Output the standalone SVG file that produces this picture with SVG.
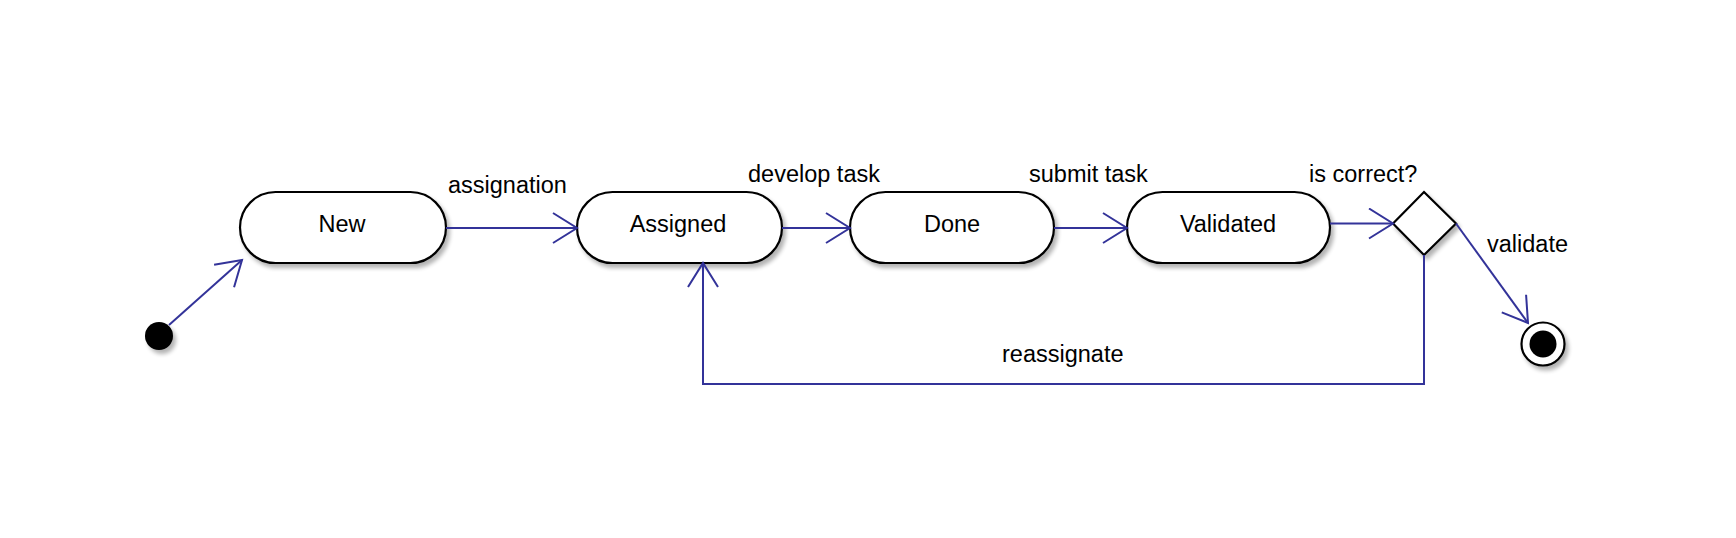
<svg xmlns="http://www.w3.org/2000/svg" width="1736" height="538" viewBox="0 0 1736 538">
<style>
.node{fill:#fff;stroke:#000;stroke-width:2.2}
.lbl{font-family:"Liberation Sans",Arial,sans-serif;font-size:23.5px;fill:#000}
.mid{text-anchor:middle}
.conn{fill:none;stroke:#333399;stroke-width:2}
</style>
<defs>
<filter id="sh" x="-20%" y="-20%" width="150%" height="150%">
<feGaussianBlur in="SourceAlpha" stdDeviation="2"/>
<feOffset dx="3" dy="4" result="b"/>
<feComponentTransfer><feFuncA type="linear" slope="0.3"/></feComponentTransfer>
<feMerge><feMergeNode/><feMergeNode in="SourceGraphic"/></feMerge>
</filter>
<marker id="arr" markerWidth="30" markerHeight="34" refX="25" refY="16" orient="auto" markerUnits="userSpaceOnUse">
<path d="M1,1 L25,16 L1,31" fill="none" stroke="#333399" stroke-width="2"/>
</marker>
</defs>
<rect width="1736" height="538" fill="#fff"/>
<g id="start"><circle cx="159" cy="336" r="14" fill="#000" filter="url(#sh)"/></g>
<g id="new"><rect class="node" x="240" y="192" width="206" height="71" rx="35.5" filter="url(#sh)"/><text class="lbl mid" x="342" y="232">New</text></g>
<g id="assigned"><rect class="node" x="577" y="192" width="205" height="71" rx="35.5" filter="url(#sh)"/><text class="lbl mid" x="678" y="232">Assigned</text></g>
<g id="done"><rect class="node" x="850" y="192" width="204" height="71" rx="35.5" filter="url(#sh)"/><text class="lbl mid" x="952" y="232">Done</text></g>
<g id="validated"><rect class="node" x="1127" y="192" width="203" height="71" rx="35.5" filter="url(#sh)"/><text class="lbl mid" x="1228" y="232">Validated</text></g>
<g id="decision"><polygon class="node" points="1424,192 1456,223.5 1424,255 1393,223.5" filter="url(#sh)"/></g>
<g id="final"><circle cx="1543" cy="344" r="21.5" fill="#fff" stroke="#000" stroke-width="2.2" filter="url(#sh)"/><circle cx="1543" cy="344" r="13.5" fill="#000"/></g>
<g id="connectors">
<line class="conn" x1="169" y1="325" x2="242" y2="260" marker-end="url(#arr)"/>
<line class="conn" x1="446" y1="228" x2="577" y2="228" marker-end="url(#arr)"/>
<line class="conn" x1="782" y1="228" x2="850" y2="228" marker-end="url(#arr)"/>
<line class="conn" x1="1054" y1="228" x2="1127" y2="228" marker-end="url(#arr)"/>
<line class="conn" x1="1330" y1="223.5" x2="1393" y2="223.5" marker-end="url(#arr)"/>
<line class="conn" x1="1456" y1="223.5" x2="1528" y2="323" marker-end="url(#arr)"/>
<polyline class="conn" points="1424,255 1424,384 703,384 703,263" marker-end="url(#arr)"/>
<text class="lbl" x="448" y="193">assignation</text>
<text class="lbl" x="748" y="182">develop task</text>
<text class="lbl" x="1029" y="182">submit task</text>
<text class="lbl" x="1309" y="182">is correct?</text>
<text class="lbl" x="1487" y="252">validate</text>
<text class="lbl" x="1002" y="362">reassignate</text>
</g>
</svg>
